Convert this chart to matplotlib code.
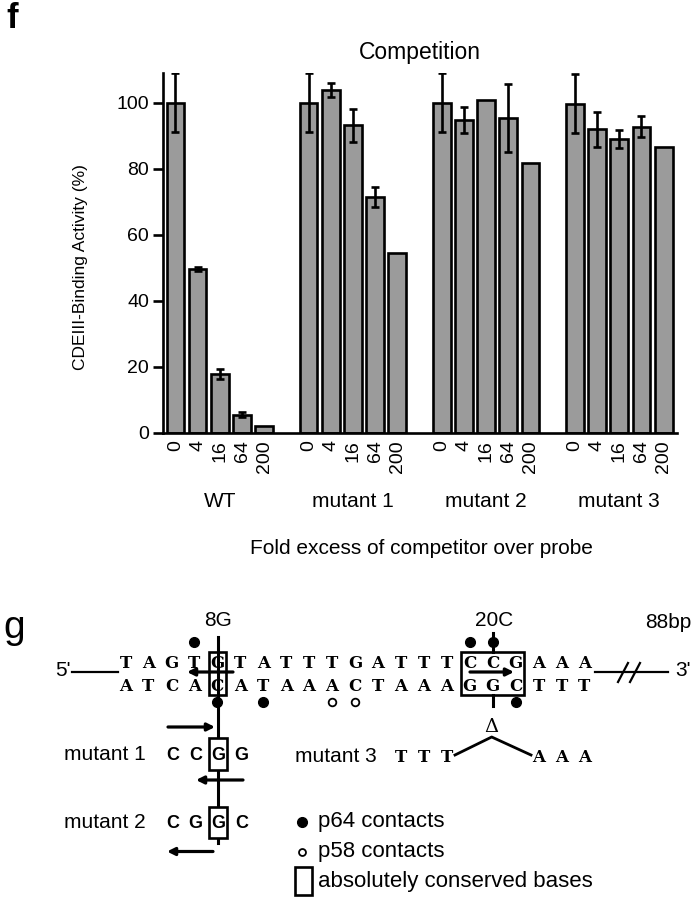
import numpy as np
import matplotlib
matplotlib.use("Agg")
import matplotlib.pyplot as plt
from matplotlib.patches import Rectangle

plt.rcParams['font.family'] = ['Liberation Sans', 'DejaVu Sans']

# ---- panel f: competition data ----
groups = ["WT", "mutant 1", "mutant 2", "mutant 3"]
fold_labels = ["0", "4", "16", "64", "200"]
wt = [100, 49.6, 17.8, 5.6, 2.1]
wt_err = [9, 0.6, 1.5, 0.8, 0]
mut1 = [100, 103.8, 93.2, 71.4, 54.5]
mut1_err = [9, 2.1, 5, 3, 0]
mut2 = [100, 94.8, 100.8, 95.4, 81.8]
mut2_err = [9, 4, 0, 10.4, 0]
mut3 = [99.7, 91.9, 89.1, 92.8, 86.6]
mut3_err = [9, 5.2, 2.7, 3.2, 0]

# ---- panel g: CDEIII sequence ----
top_strand = "TAGTGTATTTGATTTCCGAAA"
bottom_strand = "ATCACATAAACTAAAGGCTTT"
p64_top = [3, 15, 16]
p64_bottom = [4, 6, 17]
p58_bottom = [9, 10]
conserved = [(4, 4), (15, 17)]
site_labels = {4: "8G", 16: "20C"}
mutant1 = "CCGG"
mutant2 = "CGGC"
mutant3_left = "TTT"    # strand positions 12-14
mutant3_right = "AAA"   # strand positions 18-20

fig = plt.figure(figsize=(6.96, 9), dpi=100)

# ---------------- bar chart ----------------
ax = fig.add_axes([163 / 696, 1 - 433 / 900, 514 / 696, 360 / 900])
ax.patch.set_alpha(0)
series = [(wt, wt_err), (mut1, mut1_err), (mut2, mut2_err), (mut3, mut3_err)]
ticks, ticklabels = [], []
for g, (vals, errs) in enumerate(series):
    x = g * 6 + np.arange(len(vals))
    vals = np.array(vals, dtype=float)
    errs = np.array(errs, dtype=float)
    ax.bar(x, vals, width=0.8, color='#9b9b9b', edgecolor='black',
           linewidth=1.9, zorder=2)
    m = errs > 0
    ax.errorbar(x[m], vals[m], yerr=errs[m], fmt='none', ecolor='black',
                elinewidth=1.9, capsize=3, capthick=1.9, zorder=3)
    ticks += list(x)
    ticklabels += fold_labels
    ax.text(g * 6 + 2, -0.19, groups[g], transform=ax.get_xaxis_transform(),
            ha='center', va='center', fontsize=15)

ax.set_xlim(-0.56, 22.6)
ax.set_ylim(0, 109)
ax.set_xticks(ticks)
ax.set_xticklabels(ticklabels, rotation=90, fontsize=14)
ax.tick_params(axis='x', length=0, pad=5)
ax.set_yticks([0, 20, 40, 60, 80, 100])
ax.tick_params(axis='y', length=7, width=1.9, pad=3, labelsize=14)
for s in ['top', 'right']:
    ax.spines[s].set_visible(False)
for s in ['left', 'bottom']:
    ax.spines[s].set_linewidth(1.9)
ax.set_ylabel('CDEIII-Binding Activity (%)', fontsize=12.5)
ax.yaxis.set_label_coords(-0.146, 0.46)
ax.text(0.5, 1.056, 'Competition', transform=ax.transAxes, ha='center',
        va='center', fontsize=16.5)
ax.text(0.502, -0.322, 'Fold excess of competitor over probe',
        transform=ax.transAxes, ha='center', va='center', fontsize=15)

# ---------------- sequence diagram (pixel coordinates) ----------------
d = fig.add_axes([0, 0, 1, 1], zorder=-1)
d.set_xlim(0, 696)
d.set_ylim(900, 0)
d.axis('off')

d.text(6, 19, 'f', fontsize=25, weight='bold', ha='left', va='center')
d.text(3, 628, 'g', fontsize=28, ha='left', va='center')

x0, dx = 125.5, 22.95
def sx(i):
    return x0 + i * dx

y_top, y_bot = 662, 685
seq_font = dict(family='DejaVu Serif', weight='bold', fontsize=12,
                ha='center', va='baseline', zorder=5)
for i, ch in enumerate(top_strand):
    d.text(sx(i), y_top + 6, ch, **seq_font)
for i, ch in enumerate(bottom_strand):
    d.text(sx(i), y_bot + 6, ch, **seq_font)

# strand ends
d.plot([72, 118], [672, 672], color='k', lw=1.6)
d.text(71, 671, "5'", ha='right', va='center', fontsize=15)
d.plot([595, 668], [672, 672], color='k', lw=1.6)
d.plot([618, 628], [682, 663], color='k', lw=1.6)
d.plot([630, 640], [682, 663], color='k', lw=1.6)
d.text(675, 671, "3'", ha='left', va='center', fontsize=15)

# conserved base boxes
for a, b in conserved:
    d.add_patch(Rectangle((sx(a) - 8.5, 651.7), sx(b) - sx(a) + 17, 43.3,
                          fill=False, edgecolor='k', lw=1.9, zorder=4))

# site labels and vertical marks
for i, lab in site_labels.items():
    d.text(sx(i) + 1, 621, lab, ha='center', va='center', fontsize=15)
d.text(645, 622, '88bp', ha='left', va='center', fontsize=15)

mx = sx(4) + 1
d.plot([mx, mx], [637, 843], color='k', lw=2.2, zorder=1)
d.plot([sx(16), sx(16)], [633, 652], color='k', lw=2.2, zorder=1)
d.plot([sx(16), sx(16)], [695, 706], color='k', lw=2.2, zorder=1)

# contacts
d.plot([sx(i) for i in p64_top], [642] * len(p64_top), 'o', color='k',
       ms=7, zorder=6)
d.plot([sx(i) for i in p64_bottom], [701.5] * len(p64_bottom), 'o',
       color='k', ms=7, zorder=6)
d.plot([sx(i) for i in p58_bottom], [701.5] * len(p58_bottom), 'o',
       mfc='white', mec='k', mew=1.3, ms=5.5, zorder=6)

# arrows
arr = dict(arrowstyle='-|>', color='k', lw=2.3, mutation_scale=11,
           shrinkA=0, shrinkB=0)
for (xs, ys), (xe, ye) in [((233, 672), (187, 672)),
                           ((470, 672), (514, 672)),
                           ((168, 727), (215, 727)),
                           ((243, 780), (196, 780)),
                           ((213, 851.5), (167, 851.5))]:
    d.annotate('', xy=(xe, ye), xytext=(xs, ys), arrowprops=arr, zorder=6)

# mutants 1 and 2
mut_font = dict(family='Liberation Sans', weight='bold', fontsize=13,
                ha='center', va='center', zorder=5)
for row, (name, seq, yc, (b0, b1)) in enumerate([
        ("mutant 1", mutant1, 755, (738, 770)),
        ("mutant 2", mutant2, 823, (806.7, 838.3))]):
    d.text(64, yc, name, ha='left', va='center', fontsize=15)
    for k, ch in enumerate(seq):
        d.text(sx(2 + k) + 1, yc, ch, **mut_font)
    d.add_patch(Rectangle((mx - 9, b0), 18, b1 - b0, facecolor='white',
                          edgecolor='k', lw=1.9, zorder=4))

# mutant 3 (deletion of the CCG/GGC box)
d.text(295, 756, "mutant 3", ha='left', va='center', fontsize=15)
for k, ch in enumerate(mutant3_left):
    d.text(sx(12 + k), 762, ch, **seq_font)
for k, ch in enumerate(mutant3_right):
    d.text(sx(18 + k), 762, ch, **seq_font)
d.plot([455, sx(16) - 1, 531], [755, 737, 755], color='k', lw=2.0)
d.text(sx(16) - 1, 727, '\u0394', family='DejaVu Serif', fontsize=14,
       ha='center', va='center')

# legend
d.plot([301.7], [821.7], 'o', color='k', ms=7)
d.text(318, 822, 'p64 contacts', ha='left', va='center', fontsize=16)
d.plot([301.7], [852], 'o', mfc='white', mec='k', mew=1.3, ms=5)
d.text(318, 852, 'p58 contacts', ha='left', va='center', fontsize=16)
d.add_patch(Rectangle((295, 867), 16.5, 28, fill=False, edgecolor='k', lw=1.9))
d.text(318, 882, 'absolutely conserved bases', ha='left', va='center',
       fontsize=16)

fig.savefig('out.png', dpi=100)
